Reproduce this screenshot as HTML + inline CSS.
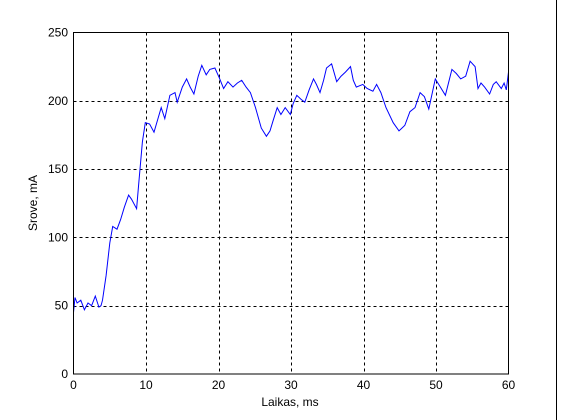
<!DOCTYPE html>
<html><head><meta charset="utf-8"><style>
body{margin:0;background:#fff}
svg{display:block;font-family:"Liberation Sans",Arial,sans-serif}
</style></head><body>
<svg id="chart" width="562" height="420">
<rect x="0" y="0" width="562" height="420" fill="#fff"/>
<line x1="556.5" y1="0" x2="556.5" y2="420" stroke="#000" stroke-width="1"/>
<g id="grid"></g>
<g id="ticks"></g>
<polyline id="series" fill="none" stroke="#0000ff" stroke-width="1"/>
<rect x="73.5" y="32.5" width="435" height="341.5" fill="none" stroke="#000" stroke-width="1"/>
<text x="290" y="406" font-size="12" text-anchor="middle">Laikas, ms</text>
<text x="37" y="203" font-size="12" text-anchor="middle" transform="rotate(-90 37 203)">Srove, mA</text>
</svg>
<script>
const xTicks=[0,10,20,30,40,50,60];
const yTicks=[0,50,100,150,200,250];
const times=[0,0.2,0.5,1,1.5,2,2.5,3,3.5,3.8,4,4.5,5,5.4,6,6.5,7,7.6,8,8.7,9,9.5,9.9,10.5,11.1,11.6,12.1,12.6,13.3,14,14.3,15,15.6,16.1,16.6,17.2,17.7,18.3,18.8,19.5,20.1,20.7,21.3,22,22.6,23.2,23.8,24.4,25.1,25.9,26.6,27.1,27.5,28.1,28.6,29.2,29.9,30.3,30.8,31.4,31.9,32.5,33.1,33.5,34,34.5,34.9,35.6,36.3,36.9,37.5,38.2,38.6,39,39.9,40.5,41.3,41.8,42.4,43.1,44.1,44.9,45.7,46.4,47.1,47.8,48.4,49,49.9,50.6,51.3,52.2,52.8,53.4,54.1,54.7,55.4,55.8,56.2,56.7,57.4,57.9,58.3,59,59.4,59.7,60];
const current=[45,56,52,54,47,52,50,57,49,50,54,72,96,108,106,113,122,131,128,121,140,170,184,183,177,186,195,187,204,206,199,210,216,210,205,218,226,219,223,224,217,209,214,210,213,215,210,206,195,180,174,178,185,195,190,195,190,198,204,201,199,208,216,212,206,215,224,227,214,218,221,225,215,210,212,209,207,212,206,195,184,178,182,192,195,206,203,194,216,210,204,223,220,216,218,229,225,209,213,210,205,212,214,209,213,208,221];
const X0=73.5,X1=508.5,Y0=374,Y1=32.5;
const sx=v=>X0+(v-0)/(60-0)*(X1-X0);
const sy=v=>Y0-(v-0)/(250-0)*(Y0-Y1);
const NS="http://www.w3.org/2000/svg";
const grid=document.getElementById('grid'),ticks=document.getElementById('ticks');
xTicks.forEach(t=>{
  const x=Math.round(sx(t))+0.5;
  if(t>0&&t<60){const l=document.createElementNS(NS,'line');
  l.setAttribute('x1',x);l.setAttribute('x2',x);l.setAttribute('y1',Y1);l.setAttribute('y2',Y0);
  l.setAttribute('stroke','#000');l.setAttribute('stroke-dasharray','3,3');
  
  
  grid.appendChild(l);}
  const tx=document.createElementNS(NS,'text');
  tx.setAttribute('x',sx(t));tx.setAttribute('y',389);tx.setAttribute('font-size','12');tx.setAttribute('text-anchor','middle');
  tx.textContent=t;
  
  
  ticks.appendChild(tx);
});
yTicks.forEach(t=>{
  const y=Math.round(sy(t))+0.5;
  if(t>0&&t<250){const l=document.createElementNS(NS,'line');
  l.setAttribute('x1',X0);l.setAttribute('x2',X1);l.setAttribute('y1',y);l.setAttribute('y2',y);
  l.setAttribute('stroke','#000');l.setAttribute('stroke-dasharray','3,3');
  
  
  grid.appendChild(l);}
  const tx=document.createElementNS(NS,'text');
  tx.setAttribute('x',68);tx.setAttribute('y',sy(t)+4);tx.setAttribute('font-size','12');tx.setAttribute('text-anchor','end');
  tx.textContent=t;
  
  
  ticks.appendChild(tx);
});
document.getElementById('series').setAttribute('points',times.map((t,i)=>sx(t).toFixed(1)+','+sy(current[i]).toFixed(1)).join(' '));
</script>
</body></html>
